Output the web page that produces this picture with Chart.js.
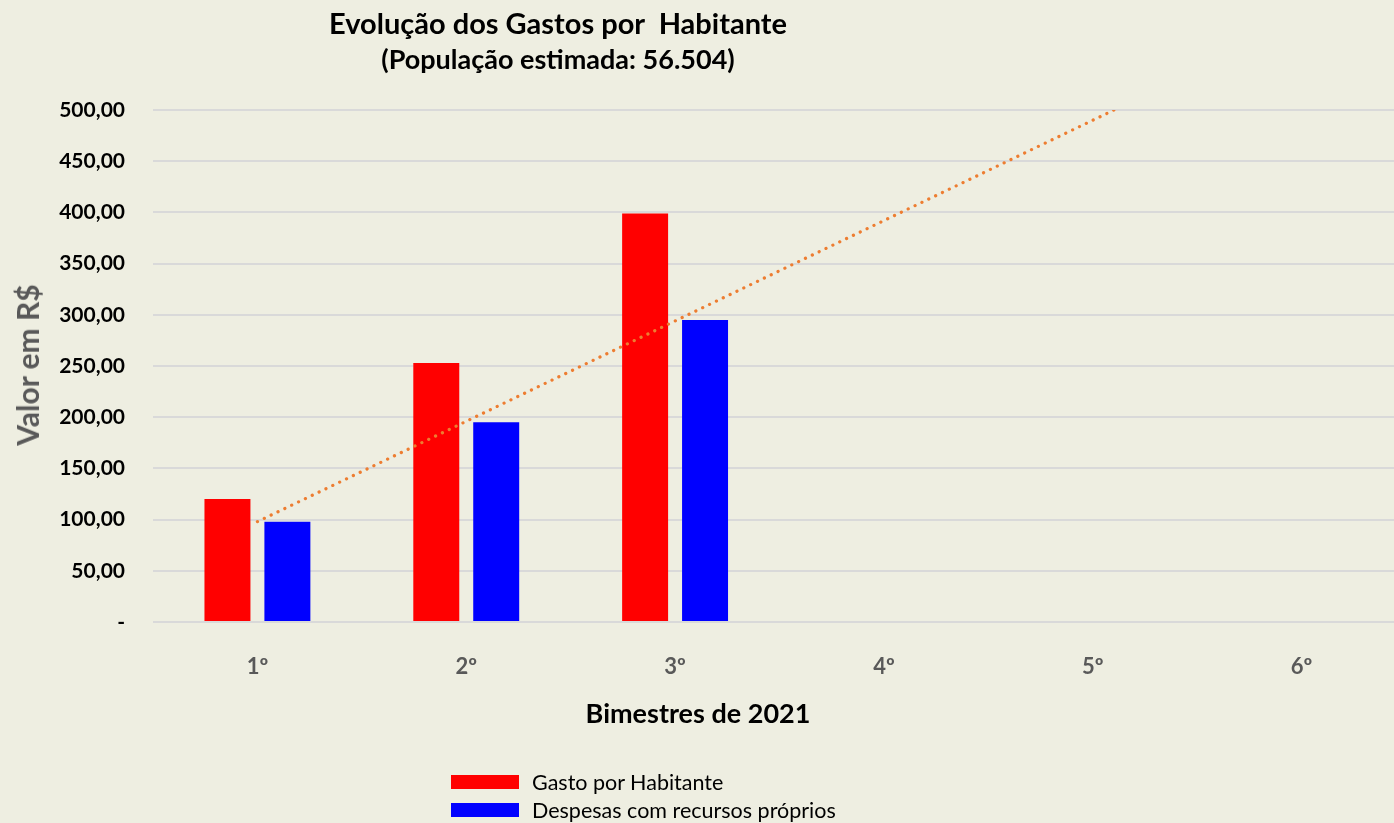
<!DOCTYPE html>
<html>
<head>
<meta charset="utf-8">
<script src="https://cdn.jsdelivr.net/npm/chart.js@4"></script>
<style>
  html, body { margin: 0; padding: 0; background: #eeeee1; overflow: hidden; }
  #wrap { position: relative; width: 1394px; height: 823px; overflow: hidden; font-family: Lato, "Open Sans", sans-serif; }
  #chart { position: absolute; left: 0; top: 0; }
  .title { position: absolute; left: 558px; transform: translate(-50%, -50%); white-space: nowrap; font-weight: bold; color: #000; }
  #ytitle { position: absolute; left: 27px; top: 365px; transform: translate(-50%, -50%) rotate(-90deg); white-space: nowrap; font-weight: bold; font-size: 30px; color: #595959; }
  #xtitle { position: absolute; left: 698px; top: 712px; transform: translate(-50%, -50%); white-space: nowrap; font-weight: bold; font-size: 27px; color: #000; }
  #legend { position: absolute; left: 451px; top: 768px; font-size: 21.5px; color: #000; }
  #legend div { height: 28px; display: flex; align-items: center; }
  #legend span.box { display: inline-block; width: 68px; height: 14px; margin-right: 13px; }
</style>
</head>
<body>
<div id="wrap">
  <canvas id="chart" width="1410" height="823"></canvas>
  <div class="title" style="top:22px;font-size:29px;">Evolução dos Gastos por&nbsp; Habitante</div>
  <div class="title" style="top:58px;font-size:27px;">(População estimada: 56.504)</div>
  <div id="ytitle">Valor em R$</div>
  <div id="xtitle">Bimestres de 2021</div>
  <div id="legend"></div>
</div>
<script>
// dados do gráfico
const bimestres = ['1º', '2º', '3º', '4º', '5º', '6º'];
const gastoHabitante = [120, 253, 399, null, null, null];
const despesasProprias = [98, 195, 295, null, null, null];
// linha de tendência
const tendencia = [98, 196, 294, 392, 490, 588];
const yTicks = [0, 50, 100, 150, 200, 250, 300, 350, 400, 450, 500];

const barSets = [
  { label: 'Gasto por Habitante', data: gastoHabitante, color: '#ff0000' },
  { label: 'Despesas com recursos próprios', data: despesasProprias, color: '#0000ff' }
];

const datasets = barSets.map(s => ({
  type: 'bar',
  label: s.label,
  data: s.data,
  backgroundColor: s.color,
  borderWidth: 0,
  categoryPercentage: 0.574,
  barPercentage: 0.767,
  order: 2
}));
datasets.push({
  type: 'line',
  label: 'Tendência',
  data: tendencia,
  borderColor: '#ed7d31',
  borderWidth: 3.2,
  borderDash: [0.1, 7.5],
  borderCapStyle: 'round',
  pointRadius: 0,
  fill: false,
  order: 1
});

const ctx = document.getElementById('chart').getContext('2d');
new Chart(ctx, {
  type: 'bar',
  data: { labels: bimestres, datasets: datasets },
  options: {
    responsive: false,
    animation: false,
    layout: { padding: { top: 110, right: 4, left: 0, bottom: 0 } },
    plugins: {
      legend: { display: false },
      title: { display: false },
      tooltip: { enabled: false }
    },
    scales: {
      x: {
        grid: { display: false },
        border: { display: false },
        ticks: { color: '#595959', font: { family: 'Lato', size: 22, weight: 'bold' }, padding: 24 },
        afterFit: (scale) => { scale.height = 201; }
      },
      y: {
        min: 0,
        max: 500,
        afterBuildTicks: (scale) => { scale.ticks = yTicks.map(v => ({ value: v })); },
        grid: { color: '#d9d9d9', lineWidth: 2, drawTicks: false },
        border: { display: false },
        ticks: {
          color: '#000',
          font: { family: 'Lato', size: 21, weight: 'bold' },
          padding: 28,
          callback: (v) => v === 0 ? '-' : v.toFixed(2).replace('.', ',')
        },
        afterFit: (scale) => { scale.width = 153; }
      }
    }
  }
});

// legenda em HTML (vertical)
const legend = document.getElementById('legend');
barSets.forEach(s => {
  const row = document.createElement('div');
  row.innerHTML = '<span class="box" style="background:' + s.color + '"></span>' + s.label;
  legend.appendChild(row);
});
</script>
</body>
</html>
